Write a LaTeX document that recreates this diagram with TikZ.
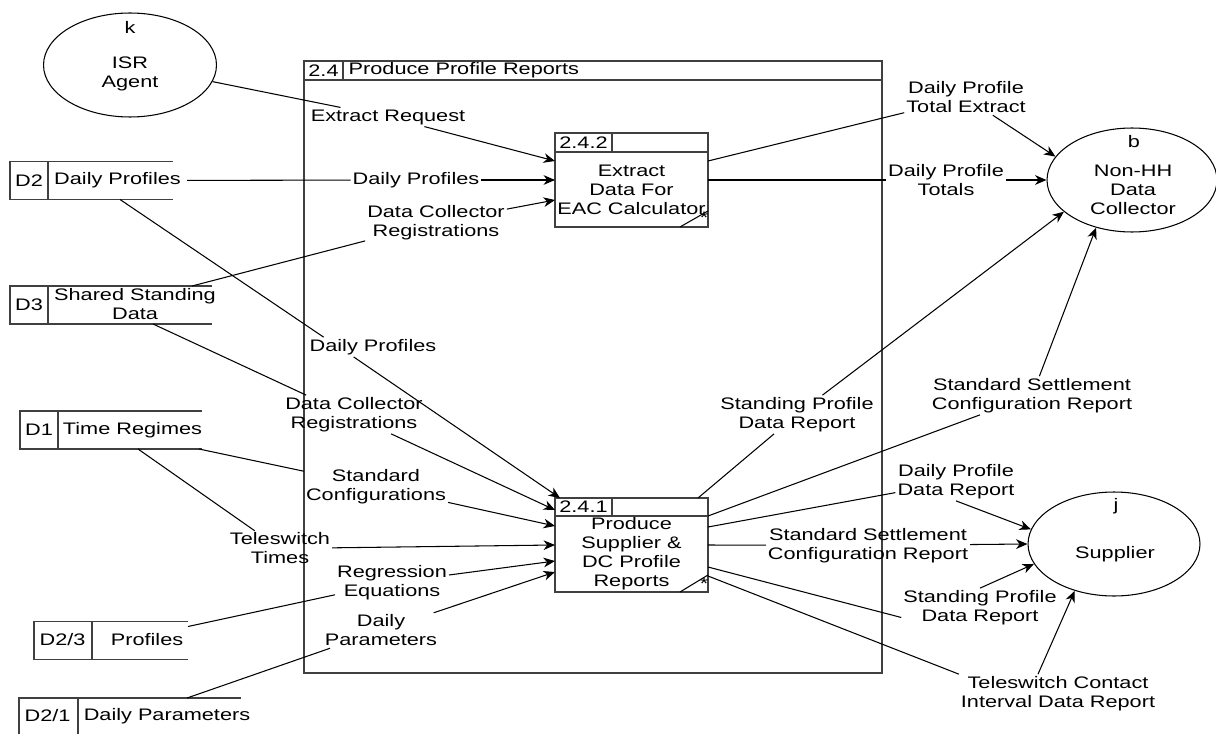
\documentclass[tikz,border=0pt]{standalone}
\usepackage{fontspec}
\setmainfont{Liberation Sans}[FakeStretch=1.3]
\usetikzlibrary{arrows.meta,calc,shapes.geometric}

\tikzset{
  flow/.style={line width=0.6pt},
  arr/.style={flow,-{Stealth[length=6.5pt,width=5.5pt,inset=2pt]}},
  flab/.style={align=center,inner sep=1pt},
  proc/.style={draw=black!75,line width=0.9pt,minimum width=3.06cm,minimum height=1.88cm,inner sep=0pt,outer sep=0pt},
  ent/.style={draw,ellipse,line width=0.6pt,minimum height=2.08cm,inner sep=0pt},
  store/.style={minimum height=0.76cm,inner sep=0pt,outer sep=0pt},
  sline/.style={draw=black!75,line width=0.9pt}
}

\begin{document}
\begin{tikzpicture}[x=0.02cm,y=-0.02cm,font=\fontsize{9.5}{10.8}\selectfont]
\useasboundingbox (0,0) rectangle (1216,733);

% frame 2.4
\coordinate (fnw) at (304,61);
\coordinate (fse) at (882,673);
\draw[sline] (fnw) rectangle (fse);
\draw[sline] ($(fnw)+(0,19)$) -- ($(fnw)+(578,19)$);
\draw[sline] ($(fnw)+(39,0)$) -- ($(fnw)+(39,19)$);
\node (fnum) at (323.5,70.5) {2.4};
\node[anchor=west] (ftitle) at (342.5,70.5) {Produce Profile Reports};

% external entities
\node[ent,minimum width=3.46cm] (isr) at (130,65) {};
\node (isrk) at (130,27) {k};
\node[align=center] (isrt) at (130,73.5) {ISR\\Agent};

\node[ent,minimum width=3.4cm] (nhh) at (1132,180) {};
\node (nhhb) at (1134,142) {b};
\node[align=center] (nhht) at (1133,189.5) {Non-HH\\Data\\Collector};

\node[ent,minimum width=3.44cm] (sup) at (1114,544) {};
\node (supj) at (1116,506) {j};
\node (supt) at (1115,554) {Supplier};

% processes
\node[proc] (p242) at (631.5,180) {};
\draw[sline] ($(p242.north west)+(0,19)$) -- ($(p242.north east)+(0,19)$);
\draw[sline] ($(p242.north west)+(57,0)$) -- ($(p242.north west)+(57,19)$);
\node (p242n) at ($(p242.north west)+(28.5,9.5)$) {2.4.2};
\node[align=center] (p242t) at ($(p242.center)+(0,9.5)$) {Extract\\Data For\\EAC Calculator};
\draw[flow] ($(p242.south east)+(-28,0)$) -- ($(p242.south east)+(0,-16)$);
\node (p242s) at ($(p242.south east)+(-4,-9)$) {*};

\node[proc] (p241) at (631.5,545) {};
\draw[sline] ($(p241.north west)+(0,18)$) -- ($(p241.north east)+(0,18)$);
\draw[sline] ($(p241.north west)+(57,0)$) -- ($(p241.north west)+(57,18)$);
\node (p241n) at ($(p241.north west)+(28.5,9)$) {2.4.1};
\node[align=center] (p241t) at ($(p241.center)+(0,9)$) {Produce\\Supplier \&\\DC Profile\\Reports};
\draw[flow] ($(p241.south east)+(-28,0)$) -- ($(p241.south east)+(0,-17)$);
\node (p241s) at ($(p241.south east)+(-4,-8)$) {*};

% data stores
\node[store,minimum width=3.26cm] (d2) at (91.5,180.5) {};
\draw[sline] (d2.north east) -- (d2.north west) -- (d2.south west) -- (d2.south east);
\draw[sline] ($(d2.north west)+(38,0)$) -- ($(d2.south west)+(38,0)$);
\node (d2n) at (29,180.5) {D2};
\node[anchor=west] (d2t) at (48,180.5) {Daily Profiles};

\node[store,minimum width=4.04cm] (d3) at (111,305) {};
\draw[sline] (d3.north east) -- (d3.north west) -- (d3.south west) -- (d3.south east);
\draw[sline] ($(d3.north west)+(38,0)$) -- ($(d3.south west)+(38,0)$);
\node (d3n) at (29,305) {D3};
\node[align=center] (d3t) at (135,304.5) {Shared Standing\\Data};

\node[store,minimum width=3.64cm] (d1) at (111,430) {};
\draw[sline] (d1.north east) -- (d1.north west) -- (d1.south west) -- (d1.south east);
\draw[sline] ($(d1.north west)+(38,0)$) -- ($(d1.south west)+(38,0)$);
\node (d1n) at (39,430) {D1};
\node (d1t) at (132.5,430) {Time Regimes};

\node[store,minimum width=3.08cm] (d23) at (111,640.5) {};
\draw[sline] (d23.north east) -- (d23.north west) -- (d23.south west) -- (d23.south east);
\draw[sline] ($(d23.north west)+(58,0)$) -- ($(d23.south west)+(58,0)$);
\node (d23n) at (62.5,640) {D2/3};
\node (d23t) at (147,640) {Profiles};

\node[store,minimum width=4.44cm] (d21) at (130,717) {};
\draw[sline] (d21.north east) -- (d21.north west) -- (d21.south west) -- (d21.south east);
\draw[sline] ($(d21.north west)+(59,0)$) -- ($(d21.south west)+(59,0)$);
\node (d21n) at (47.5,716) {D2/1};
\node (d21t) at (167,716) {Daily Parameters};

% flow labels
\node[flab] (er) at (388,117) {Extract Request};
\node[flab] (dp1) at (416,180) {Daily Profiles};
\node[flab] (dcr1) at (436,222.5) {Data Collector\\Registrations};
\node[flab] (dp2) at (373,347) {Daily Profiles};
\node[flab] (dcr2) at (354,414.5) {Data Collector\\Registrations};
\node[flab] (sc) at (376,486.5) {Standard\\Configurations};
\node[flab] (tt) at (280,548.5) {Teleswitch\\Times};
\node[flab] (re) at (392,582.5) {Regression\\Equations};
\node[flab] (dpar) at (381,630.5) {Daily\\Parameters};
\node[flab] (dpte) at (966,97.5) {Daily Profile\\Total Extract};
\node[flab] (dpt) at (946,180) {Daily Profile\\Totals};
\node[flab] (spd1) at (797,414.5) {Standing Profile\\Data Report};
\node[flab] (ssc1) at (1032,395.5) {Standard Settlement\\Configuration Report};
\node[flab] (dpdr) at (956,481.5) {Daily Profile\\Data Report};
\node[flab] (ssc2) at (868,545.5) {Standard Settlement\\Configuration Report};
\node[flab] (spd2) at (980,607.5) {Standing Profile\\Data Report};
\node[flab] (tci) at (1058,693.5) {Teleswitch Contact\\Interval Data Report};

% flows into 2.4.2
\draw[flow] (isr) -- (er);
\draw[arr] (er) -- ($(p242.north west)+(0,28)$);
\draw[flow] (d2t) -- (dp1);
\draw[arr] (dp1) -- (p242.west);
\draw[flow] ($(d3.north east)+(-20,0)$) -- (dcr1);
\draw[arr] (dcr1) -- ($(p242.west)+(0,20)$);

% flows into 2.4.1
\draw[flow] ($(d2.south west)+(110,0)$) -- ($(dp2.north west)+(16,0)$);
\draw[arr] ($(dp2.south west)+(46,0)$) -- ($(p241.north west)+(5,0)$);
\draw[flow] ($(d3.south west)+(143,0)$) -- ($(dcr2.north west)+(23,0)$);
\draw[arr] ($(dcr2.south west)+(108,0)$) -- ($(p241.north west)+(0,12)$);
\draw[flow] ($(d1.south east)+(-3,0)$) -- (sc);
\draw[arr] (sc) -- ($(p241.west)+(0,-19)$);
\draw[flow] ($(d1.south west)+(118,0)$) -- (tt);
\draw[arr] (tt) -- (p241.west);
\draw[flow] ($(d23.north east)+(0,5)$) -- (re);
\draw[arr] (re) -- ($(p241.west)+(0,16)$);
\draw[flow] ($(d21.north west)+(168,0)$) -- (dpar);
\draw[arr] (dpar) -- ($(p241.west)+(0,27)$);

% flows to Non-HH Data Collector
\draw[flow] ($(p242.north east)+(0,28)$) -- (dpte);
\draw[arr] (dpte) -- (nhh.163);
\draw[flow] (p242.east) -- (dpt);
\draw[arr] (dpt) -- (nhh.west);
\draw[flow] ($(p241.north east)+(-10,0)$) -- (spd1);
\draw[arr] (spd1) -- (nhh.205);
\draw[flow] ($(p241.north east)+(0,18)$) -- (ssc1);
\draw[arr] (ssc1) -- (nhh.233);

% flows to Supplier
\draw[flow] ($(p241.north east)+(0,29)$) -- (dpdr);
\draw[arr] (dpdr.south) -- (sup.170);
\draw[flow] (p241.east) -- (ssc2);
\draw[arr] (ssc2) -- (sup.west);
\draw[flow] ($(p241.east)+(0,22)$) -- ($(spd2.west)+(0,10)$);
\draw[arr] (spd2.north) -- (sup.194);
\draw[flow] ($(p241.east)+(0,31)$) -- (tci.north west);
\draw[arr] ($(tci.north)+(-20,0)$) -- (sup.230);

\end{tikzpicture}
\end{document}
